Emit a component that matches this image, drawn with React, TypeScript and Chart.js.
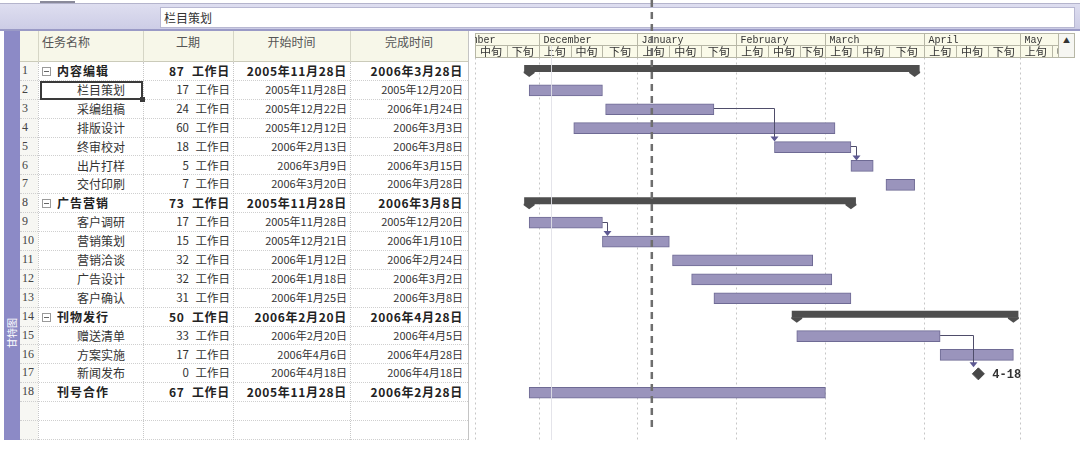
import React, { useEffect, useRef } from "react";
import { Chart, registerables } from "chart.js";

Chart.register(...registerables);

// ---------------- data ----------------
const rowIds = ["1", "2", "3", "4", "5", "6", "7", "8", "9", "10", "11", "12", "13", "14", "15", "16", "17", "18"];
const emptyRowIds = ["19", "20"];
const taskNames = ["内容编辑", "栏目策划", "采编组稿", "排版设计", "终审校对", "出片打样", "交付印刷", "广告营销", "客户调研", "营销策划", "营销洽谈", "广告设计", "客户确认", "刊物发行", "赠送清单", "方案实施", "新闻发布", "刊号合作"];
const durations = [87, 17, 24, 60, 18, 5, 7, 73, 17, 15, 32, 32, 31, 50, 33, 17, 0, 67];
const startDates = ["2005-11-28", "2005-11-28", "2005-12-22", "2005-12-12", "2006-02-13", "2006-03-09", "2006-03-20", "2005-11-28", "2005-11-28", "2005-12-21", "2006-01-12", "2006-01-18", "2006-01-25", "2006-02-20", "2006-02-20", "2006-04-06", "2006-04-18", "2005-11-28"];
const finishDates = ["2006-03-28", "2005-12-20", "2006-01-24", "2006-03-03", "2006-03-08", "2006-03-15", "2006-03-28", "2006-03-08", "2005-12-20", "2006-01-10", "2006-02-24", "2006-03-02", "2006-03-08", "2006-04-28", "2006-04-05", "2006-04-28", "2006-04-18", "2006-02-28"];
const outlineLevels = [1, 2, 2, 2, 2, 2, 2, 1, 2, 2, 2, 2, 2, 1, 2, 2, 2, 1];
const summaryRows = ["1", "8", "14"];
const taskLinks = [["3", "5"], ["5", "6"], ["9", "10"], ["15", "17"]];

const columnHeaders = ["任务名称", "工期", "开始时间", "完成时间"];
const durationUnit = "工作日";
const monthNames = ["November", "December", "January", "February", "March", "April", "May"];
const monthStarts = ["2005-11-01", "2005-12-01", "2006-01-01", "2006-02-01", "2006-03-01", "2006-04-01", "2006-05-01", "2006-06-01"];
const periodLabels = ["上旬", "中旬", "下旬"];
const viewStart = "2005-11-11";
const viewEnd = "2006-05-13";
const currentDate = "2006-01-05";
const markerDate = "2005-12-05";
const entryText = "栏目策划";
const viewLabel = "甘特图";

// ---------------- helpers ----------------
const EPOCH = (() => { const [y, m, d] = viewStart.split("-").map(Number); return Date.UTC(y, m - 1, d); })();
function dayOf(s: string): number {
  const [y, m, d] = s.split("-").map(Number);
  return (Date.UTC(y, m - 1, d) - EPOCH) / 86400000;
}
function fmtDate(s: string): string {
  const [y, m, d] = s.split("-").map(Number);
  return `${y}年${m}月${d}日`;
}
function shortDate(s: string): string {
  const [, m, d] = s.split("-").map(Number);
  return `${m}-${d}`;
}
const allRows = [...rowIds, ...emptyRowIds];
const isSummary = (id: string) => summaryRows.includes(id);
const barEnd = (i: number) => (durations[i] === 0 ? dayOf(startDates[i]) : dayOf(finishDates[i]) + 1);

const taskData = rowIds
  .filter((id, i) => !isSummary(id) && durations[i] > 0)
  .map((id) => { const i = rowIds.indexOf(id); return { x: [dayOf(startDates[i]), barEnd(i)], y: id }; });
const summaryData = rowIds
  .filter((id) => isSummary(id))
  .map((id) => { const i = rowIds.indexOf(id); return { x: [dayOf(startDates[i]), barEnd(i)], y: id }; });
const milestoneData = rowIds
  .filter((id, i) => durations[i] === 0)
  .map((id) => { const i = rowIds.indexOf(id); return { x: dayOf(startDates[i]), y: id, label: shortDate(startDates[i]) }; });

// ---------------- layout constants ----------------
const ROW_TOP = 62;
const ROW_H = 18.9;
const HDR_TOP = 33;
const HDR_MID = 45.5;
const HDR_BOT = 57.5;

const ganttPlugin = {
  id: "ganttDecor",
  beforeDatasetsDraw(chart: any) {
    const { ctx, chartArea: a, scales } = chart;
    const x = scales.x;
    ctx.save();
    ctx.lineWidth = 1;
    ctx.strokeStyle = "#c6c6c6";
    ctx.setLineDash([2, 3]);
    const gv = [0, ...monthStarts.map(dayOf)];
    for (const v of gv) {
      const px = Math.round(x.getPixelForValue(v)) + 0.5;
      if (px < a.left - 1 || px > a.right + 1) continue;
      ctx.beginPath();
      ctx.moveTo(px, HDR_BOT);
      ctx.lineTo(px, a.bottom);
      ctx.stroke();
    }
    ctx.restore();
  },
  afterDatasetsDraw(chart: any) {
    const { ctx, scales } = chart;
    const x = scales.x;
    const y = scales.y;
    ctx.save();
    // summary bars
    const sMeta = chart.getDatasetMeta(1);
    ctx.fillStyle = "#4e4e4e";
    sMeta.data.forEach((el: any) => {
      const { x: xe, base: xs, y: c } = el.getProps(["x", "base", "y"], true);
      ctx.beginPath();
      ctx.rect(xs - 5, c - 6.5, xe - xs + 10, 7);
      ctx.fill();
      for (const p of [xs, xe]) {
        ctx.beginPath();
        ctx.moveTo(p - 5.5, c);
        ctx.lineTo(p + 5.5, c);
        ctx.lineTo(p + 5.5, c + 1.5);
        ctx.lineTo(p, c + 5.5);
        ctx.lineTo(p - 5.5, c + 1.5);
        ctx.closePath();
        ctx.fill();
      }
    });
    // links
    const info = (id: string) => {
      const i = rowIds.indexOf(id);
      return {
        xs: x.getPixelForValue(dayOf(startDates[i])),
        xe: x.getPixelForValue(barEnd(i)),
        y: y.getPixelForValue(allRows.indexOf(id)),
        ms: durations[i] === 0,
      };
    };
    for (const [from, to] of taskLinks) {
      const a = info(from);
      const b = info(to);
      const xv = Math.round(Math.max(b.xs + (b.ms ? -5 : 0), a.xe + 5)) + 0.5;
      const ya = Math.round(a.y) - 0.5;
      const tip = b.y - (b.ms ? 6.5 : 5.5);
      ctx.strokeStyle = "#4f4d6a";
      ctx.lineWidth = 1;
      ctx.beginPath();
      ctx.moveTo(a.xe, ya);
      ctx.lineTo(xv, ya);
      ctx.lineTo(xv, tip - 4);
      ctx.stroke();
      ctx.fillStyle = "#5d5992";
      ctx.beginPath();
      ctx.moveTo(xv - 4, tip - 5);
      ctx.lineTo(xv + 4, tip - 5);
      ctx.lineTo(xv, tip);
      ctx.closePath();
      ctx.fill();
    }
    // milestone labels
    const mMeta = chart.getDatasetMeta(2);
    ctx.fillStyle = "#333";
    ctx.font = "bold 12px 'Liberation Mono', monospace";
    ctx.textBaseline = "middle";
    mMeta.data.forEach((el: any, k: number) => {
      ctx.fillText(milestoneData[k].label, el.x + 14, el.y + 1);
    });
    ctx.restore();
  },
  afterDraw(chart: any) {
    const { ctx, chartArea: a, scales } = chart;
    const x = scales.x;
    ctx.save();
    // timescale header
    ctx.fillStyle = "#fafae9";
    ctx.fillRect(a.left, HDR_TOP, a.right - a.left, HDR_BOT - HDR_TOP);
    ctx.strokeStyle = "#b7b7a6";
    ctx.lineWidth = 1;
    ctx.beginPath();
    ctx.moveTo(a.left, HDR_TOP + 0.5); ctx.lineTo(a.right, HDR_TOP + 0.5);
    ctx.moveTo(a.left, HDR_MID); ctx.lineTo(a.right, HDR_MID);
    ctx.moveTo(a.left, HDR_BOT); ctx.lineTo(a.right, HDR_BOT);
    ctx.moveTo(a.left + 0.5, HDR_TOP); ctx.lineTo(a.left + 0.5, HDR_BOT);
    ctx.stroke();
    ctx.beginPath();
    ctx.rect(a.left, HDR_TOP, a.right - a.left, HDR_BOT - HDR_TOP);
    ctx.clip();
    ctx.textBaseline = "middle";
    for (let i = 0; i < monthNames.length; i++) {
      const d0 = dayOf(monthStarts[i]);
      const d3 = dayOf(monthStarts[i + 1]);
      const bounds = [d0, d0 + 10, d0 + 20, d3];
      const x0 = Math.round(x.getPixelForValue(d0)) + 0.5;
      ctx.strokeStyle = "#b7b7a6";
      ctx.beginPath();
      ctx.moveTo(x0, HDR_TOP);
      ctx.lineTo(x0, HDR_BOT);
      ctx.stroke();
      ctx.fillStyle = "#333";
      ctx.font = "10px 'Liberation Mono', monospace";
      ctx.textAlign = "left";
      ctx.fillText(monthNames[i], x0 + 4, (HDR_TOP + HDR_MID) / 2 + 1);
      ctx.font = "11px 'Noto Sans CJK SC', sans-serif";
      ctx.textAlign = "center";
      for (let k = 0; k < 3; k++) {
        const p0 = x.getPixelForValue(bounds[k]);
        const p1 = x.getPixelForValue(bounds[k + 1]);
        if (k > 0) {
          ctx.beginPath();
          ctx.moveTo(Math.round(p0) + 0.5, HDR_MID);
          ctx.lineTo(Math.round(p0) + 0.5, HDR_BOT);
          ctx.stroke();
        }
        ctx.fillText(periodLabels[k], (p0 + p1) / 2, (HDR_MID + HDR_BOT) / 2 + 0.5);
      }
    }
    ctx.restore();
    ctx.save();
    // marker line
    const mx = Math.round(x.getPixelForValue(dayOf(markerDate))) + 0.5;
    ctx.strokeStyle = "rgba(225,225,232,0.9)";
    ctx.lineWidth = 1;
    ctx.beginPath();
    ctx.moveTo(mx, HDR_MID);
    ctx.lineTo(mx, a.bottom);
    ctx.stroke();
    // current date line
    const cx = x.getPixelForValue(dayOf(currentDate) + 0.5);
    ctx.strokeStyle = "#6e6e6e";
    ctx.lineWidth = 2.5;
    ctx.setLineDash([7, 5]);
    ctx.beginPath();
    ctx.moveTo(cx, 0);
    ctx.lineTo(cx, 428);
    ctx.stroke();
    ctx.restore();
  },
};

export default function App() {
  const ref = useRef<HTMLCanvasElement>(null);
  useEffect(() => {
    document.body.style.margin = "0";
    const chart = new Chart(ref.current as HTMLCanvasElement, {
      type: "bar",
      data: {
        labels: allRows,
        datasets: [
          {
            type: "bar",
            label: "任务",
            data: taskData as any,
            backgroundColor: "#9a94bc",
            borderColor: "#6e6a94",
            borderWidth: 1,
            borderSkipped: false,
            barThickness: 11,
            grouped: false,
          } as any,
          {
            type: "bar",
            label: "摘要任务",
            data: summaryData as any,
            backgroundColor: "rgba(0,0,0,0)",
            borderWidth: 0,
            barThickness: 6,
            grouped: false,
          } as any,
          {
            type: "scatter",
            label: "里程碑",
            data: milestoneData as any,
            pointStyle: "rectRot",
            pointRadius: 6,
            pointHoverRadius: 6,
            backgroundColor: "#474747",
            borderColor: "#474747",
            borderWidth: 1,
          } as any,
        ],
      },
      options: {
        indexAxis: "y",
        responsive: false,
        maintainAspectRatio: false,
        animation: false,
        events: [],
        layout: { padding: { left: 475, right: 22, top: ROW_TOP, bottom: 10 } },
        scales: {
          x: { type: "linear", min: 0, max: dayOf(viewEnd), display: false, offset: false },
          y: { type: "category", labels: allRows, display: false, offset: true },
        },
        plugins: { legend: { display: false }, tooltip: { enabled: false } },
      } as any,
      plugins: [ganttPlugin],
    });
    return () => chart.destroy();
  }, []);

  const colSeps = [38, 143, 233, 350];
  return (
    <div style={{ position: "fixed", left: 0, top: 0, width: 1080, height: 450, background: "#fff", overflow: "hidden", fontFamily: "'Noto Sans CJK SC', sans-serif", color: "#333" }}>
      {/* top band */}
      <div style={{ position: "absolute", left: 0, top: 3, width: 1080, height: 28, background: "linear-gradient(#dedef0, #cdcde6)", borderTop: "1px solid #b4b4cc", borderBottom: "2px solid #9a9ac6", boxSizing: "border-box" }} />
      <div style={{ position: "absolute", left: 40, top: 1, width: 35, height: 2, background: "#8a8a9a" }} />
      <div style={{ position: "absolute", left: 160, top: 7, width: 915, height: 21, background: "#fff", border: "1px solid #b8b8d2", boxSizing: "border-box", fontSize: 12, lineHeight: "19px", paddingLeft: 3 }}>{entryText}</div>

      {/* left view strip */}
      <div style={{ position: "absolute", left: 4, top: 31, width: 16, height: 409, background: "#8c8ac6" }} />
      <div style={{ position: "absolute", left: -8, top: 326, width: 40, height: 14, color: "#fff", fontSize: 10, lineHeight: "14px", textAlign: "center", transform: "rotate(-90deg)" }}>{viewLabel}</div>

      {/* table header */}
      <div style={{ position: "absolute", left: 20, top: 31, width: 449, height: 31, background: "#f7f7e9", borderBottom: "1px solid #cbcbba", boxSizing: "border-box" }} />
      <div style={{ position: "absolute", left: 42, top: 33, fontSize: 12, color: "#555" }}>{columnHeaders[0]}</div>
      <div style={{ position: "absolute", left: 143, top: 33, width: 90, textAlign: "center", fontSize: 12, color: "#555" }}>{columnHeaders[1]}</div>
      <div style={{ position: "absolute", left: 233, top: 33, width: 117, textAlign: "center", fontSize: 12, color: "#555" }}>{columnHeaders[2]}</div>
      <div style={{ position: "absolute", left: 350, top: 33, width: 118, textAlign: "center", fontSize: 12, color: "#555" }}>{columnHeaders[3]}</div>

      {/* row number column background */}
      <div style={{ position: "absolute", left: 20, top: 62, width: 18, height: 378, background: "#f7f7f3" }} />

      {/* rows */}
      {allRows.map((id, r) => {
        const i = rowIds.indexOf(id);
        const has = i >= 0;
        const top = ROW_TOP + r * ROW_H;
        const bold = has && outlineLevels[i] === 1;
        const sum = has && isSummary(id);
        const weight = bold ? 700 : 400;
        return (
          <div key={id} style={{ position: "absolute", left: 20, top, width: 448, height: ROW_H, borderBottom: "1px dotted #cfcfcf", boxSizing: "border-box" }}>
            {has && (
              <>
                <div style={{ position: "absolute", left: 2, top: 0, fontFamily: "'Liberation Serif', serif", fontSize: 12, lineHeight: ROW_H - 2 + "px", color: "#444" }}>{id}</div>
                {sum && (
                  <div style={{ position: "absolute", left: 22, top: 5, width: 9, height: 9, border: "1px solid #9a9a9a", boxSizing: "border-box", background: "#fff" }}>
                    <div style={{ position: "absolute", left: 1, right: 1, top: 3, height: 1, background: "#666" }} />
                  </div>
                )}
                <div style={{ position: "absolute", left: bold ? 37 : 57, top: 0, fontSize: 12, fontWeight: weight, letterSpacing: bold ? 1 : 0, lineHeight: ROW_H - 1 + "px", color: bold ? "#222" : "#333", whiteSpace: "nowrap" }}>{taskNames[i]}</div>
                <div style={{ position: "absolute", left: 123, width: 87, top: 0, textAlign: "right", fontSize: bold ? 12 : 11.5, fontWeight: weight, letterSpacing: bold ? 0.7 : 0, wordSpacing: 4, lineHeight: ROW_H - 1 + "px", color: bold ? "#222" : "#333", whiteSpace: "nowrap" }}>{`${durations[i]} ${durationUnit}`}</div>
                <div style={{ position: "absolute", left: 213, width: 114, top: 0, textAlign: "right", fontSize: bold ? 12 : 11, fontWeight: weight, letterSpacing: bold ? 0.7 : 0, lineHeight: ROW_H - 1 + "px", color: bold ? "#222" : "#333", whiteSpace: "nowrap" }}>{fmtDate(startDates[i])}</div>
                <div style={{ position: "absolute", left: 330, width: 113, top: 0, textAlign: "right", fontSize: bold ? 12 : 11, fontWeight: weight, letterSpacing: bold ? 0.7 : 0, lineHeight: ROW_H - 1 + "px", color: bold ? "#222" : "#333", whiteSpace: "nowrap" }}>{fmtDate(finishDates[i])}</div>
              </>
            )}
          </div>
        );
      })}

      {/* column separators */}
      {colSeps.map((cx) => (
        <div key={"h" + cx} style={{ position: "absolute", left: cx, top: 31, width: 0, height: 31, borderLeft: "1px solid #d6d6c6" }} />
      ))}
      {colSeps.map((cx) => (
        <div key={"b" + cx} style={{ position: "absolute", left: cx, top: 62, width: 0, height: 378, borderLeft: "1px dotted #c8c8c8" }} />
      ))}
      <div style={{ position: "absolute", left: 468, top: 31, width: 0, height: 409, borderLeft: "1px solid #c4c4c4" }} />

      {/* selection box on row 2 name */}
      <div style={{ position: "absolute", left: 40, top: ROW_TOP + ROW_H, width: 103, height: ROW_H + 0.5, border: "2px solid #3a3a3a", boxSizing: "border-box" }} />
      <div style={{ position: "absolute", left: 140, top: ROW_TOP + 2 * ROW_H - 3, width: 5, height: 5, background: "#3a3a3a" }} />

      {/* scroll button */}
      <div style={{ position: "absolute", left: 1058, top: 33, width: 17, height: 25, border: "1px solid #b7b7a6", boxSizing: "border-box", background: "#f6f6f2", fontSize: 7, textAlign: "center", lineHeight: "12px", color: "#333" }}>▲</div>

      <canvas ref={ref} width={1080} height={450} style={{ position: "absolute", left: 0, top: 0, width: 1080, height: 450, zIndex: 5, pointerEvents: "none" }} />
    </div>
  );
}
